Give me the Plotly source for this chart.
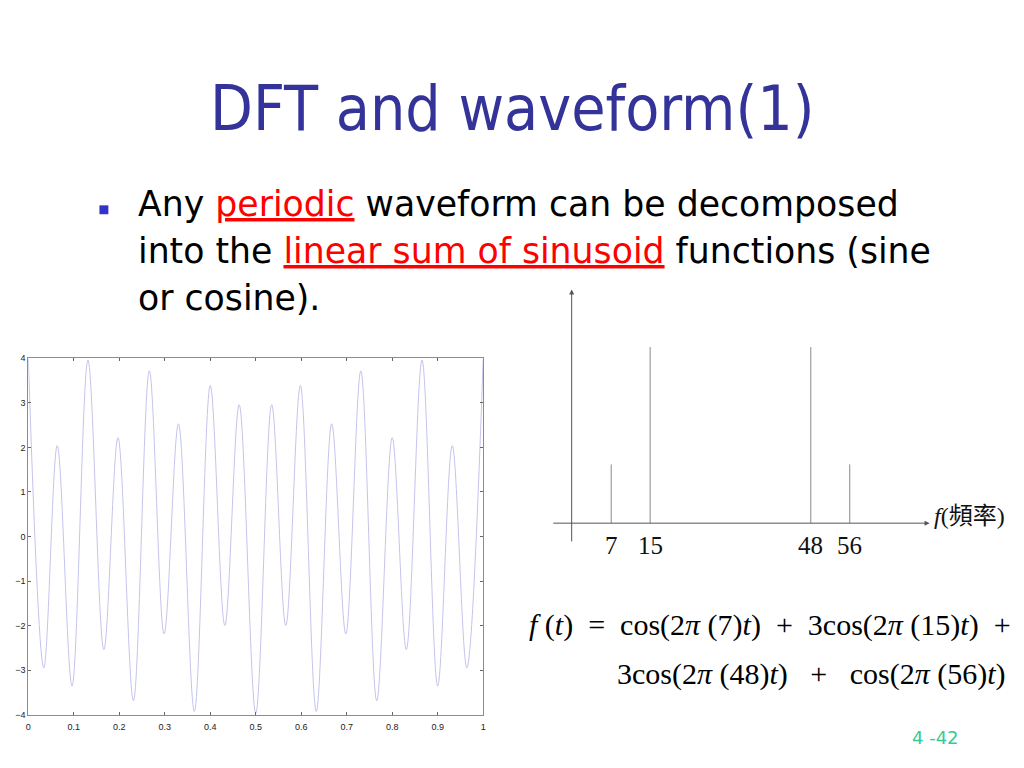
import plotly.graph_objects as go

# ---------------- data ----------------
# waveform extrema (time in s, amplitude)
wave_t = [0.0, 0.034, 0.0635, 0.096, 0.131, 0.166, 0.197, 0.231, 0.266, 0.2985,
          0.33, 0.365, 0.40, 0.432, 0.4635, 0.5, 0.535, 0.566, 0.598, 0.633,
          0.667, 0.698, 0.731, 0.766, 0.80, 0.831, 0.8655, 0.90, 0.932, 0.964, 1.0]
wave_y = [3.98, -2.95, 2.04, -3.36, 3.96, -2.54, 2.22, -3.69, 3.72, -2.19,
          2.53, -3.93, 3.39, -2.0, 2.96, -3.97, 2.96, -2.0, 3.39, -3.93,
          2.53, -2.19, 3.72, -3.69, 2.22, -2.54, 3.96, -3.36, 2.04, -2.95, 3.98]
x_ticks = [0, 0.1, 0.2, 0.3, 0.4, 0.5, 0.6, 0.7, 0.8, 0.9, 1]
x_ticklabels = ["0", "0.1", "0.2", "0.3", "0.4", "0.5", "0.6", "0.7", "0.8", "0.9", "1"]
y_ticks = [-4, -3, -2, -1, 0, 1, 2, 3, 4]

# spectrum
freqs = [7, 15, 48, 56]
amps = [1, 3, 3, 1]

W, H = 1024, 768
def px(x):
    return x / W
def py(y):
    return 1 - y / H

fig = go.Figure()

# waveform
fig.add_trace(go.Scatter(
    x=wave_t, y=wave_y, mode="lines",
    line=dict(color="#c4c4ec", width=1, shape="spline", smoothing=1.0),
    xaxis="x", yaxis="y", showlegend=False, hoverinfo="skip"))

# spectrum stems
sx, sy = [], []
for f, a in zip(freqs, amps):
    sx += [f, f, None]
    sy += [0, a, None]
fig.add_trace(go.Scatter(
    x=sx, y=sy, mode="lines", line=dict(color="#8a8a8a", width=1),
    xaxis="x2", yaxis="y2", showlegend=False, hoverinfo="skip"))

# spectrum axes geometry: pixel = 577.5 + 4.897 f ; baseline y=525, 59.5 px per unit
f_per_px = 1 / 4.897
x2_l, x2_r = 540, 945
y2_t, y2_b = 280, 560
x2_range = [(x2_l - 577.5) * f_per_px, (x2_r - 577.5) * f_per_px]
y2_range = [(525 - y2_b) / 59.5, (525 - y2_t) / 59.5]

axis_font = dict(family="Liberation Sans, Arial", size=9, color="#222222")

fig.update_layout(
    width=W, height=H, margin=dict(l=0, r=0, t=0, b=0),
    paper_bgcolor="white", plot_bgcolor="white",
    xaxis=dict(domain=[px(25.5), px(483)], range=[0, 1], tickvals=x_ticks,
               ticktext=x_ticklabels, ticks="inside", ticklen=3, tickcolor="#666",
               showline=True, linecolor="#8c8c8c", linewidth=1, mirror="allticks",
               showgrid=False, zeroline=False, tickfont=axis_font, anchor="y",
               ticklabelstandoff=4),
    yaxis=dict(domain=[py(719), py(358)], range=[-4, 4], tickvals=y_ticks,
               ticks="inside", ticklen=3, tickcolor="#666",
               showline=True, linecolor="#8c8c8c", linewidth=1, mirror="allticks",
               showgrid=False, zeroline=False, tickfont=axis_font, anchor="x"),
    xaxis2=dict(domain=[px(x2_l), px(x2_r)], range=x2_range, visible=False, anchor="y2"),
    yaxis2=dict(domain=[py(y2_b), py(y2_t)], range=y2_range, visible=False, anchor="x2"),
)

ann = []
cond = "DejaVu Sans Condensed, Tahoma, DejaVu Sans"
sans = "DejaVu Sans, Tahoma, sans-serif"
# title
ann.append(dict(text="DFT and waveform(1)", x=px(512), y=py(105), xref="paper", yref="paper",
                showarrow=False, xanchor="center", yanchor="middle",
                font=dict(family=cond, size=62, color="#333399")))
red = "<span style='color:#ff0000;text-decoration:underline'>%s</span>"
lines = ["Any " + red % "periodic" + " waveform can be decomposed",
         "into the " + red % "linear sum of sinusoid" + " functions (sine",
         "or cosine)."]
for i, ln in enumerate(lines):
    ann.append(dict(text=ln, x=px(134), y=py(202 + 47.5 * i), xref="paper", yref="paper",
                    showarrow=False, xanchor="left", yanchor="middle",
                    font=dict(family=sans, size=34.7, color="#000000")))
# bullet square
fig.add_shape(type="rect", xref="paper", yref="paper",
              x0=px(97), x1=px(106), y0=py(212), y1=py(203),
              fillcolor="#3333cc", line=dict(width=0))

# spectrum axis arrows
ax_col = "#555555"
ann.append(dict(x=72.4, y=0, ax=-5.2, ay=0, xref="x2", yref="y2", axref="x2", ayref="y2",
                text="", showarrow=True, arrowhead=2, arrowsize=1, arrowwidth=1, arrowcolor=ax_col))
ann.append(dict(x=-1.12, y=3.98, ax=-1.12, ay=-0.336, xref="x2", yref="y2", axref="x2", ayref="y2",
                text="", showarrow=True, arrowhead=2, arrowsize=1, arrowwidth=1, arrowcolor=ax_col))
serif = "Liberation Serif, Times New Roman, serif"
for f in freqs:
    ann.append(dict(text=str(f), x=f, y=py(548), xref="x2", yref="paper", showarrow=False,
                    xanchor="center", yanchor="middle",
                    font=dict(family=serif, size=25, color="#111111")))
ann.append(dict(text="<i>f</i>(頻率)", x=px(934), y=py(518), xref="paper", yref="paper",
                showarrow=False, xanchor="left", yanchor="middle",
                font=dict(family="Liberation Serif, Noto Sans CJK TC, serif", size=24, color="#111111")))

# formula
sp = "\u00a0"
ann.append(dict(text="<i>f</i>" + sp + "(<i>t</i>)" + sp * 2 + "=" + sp * 2 +
                "cos(2<i>π</i>" + sp + "(7)<i>t</i>)" + sp * 2 + "+" + sp * 2 +
                "3cos(2<i>π</i>" + sp + "(15)<i>t</i>)" + sp * 2 + "+",
                x=px(1016), y=py(628), xref="paper", yref="paper", showarrow=False,
                xanchor="right", yanchor="middle",
                font=dict(family=serif, size=30, color="#000000")))
ann.append(dict(text="3cos(2<i>π</i>" + sp + "(48)<i>t</i>)" + sp * 3 + "+" + sp * 3 +
                "cos(2<i>π</i>" + sp + "(56)<i>t</i>)",
                x=px(1011), y=py(678), xref="paper", yref="paper", showarrow=False,
                xanchor="right", yanchor="middle",
                font=dict(family=serif, size=30, color="#000000")))
# page number
ann.append(dict(text="4 -42", x=px(938), y=py(742), xref="paper", yref="paper", showarrow=False,
                xanchor="center", yanchor="middle",
                font=dict(family=sans, size=18, color="#33cc99")))

fig.update_layout(annotations=ann)
fig.write_html("out.html", config={"displayModeBar": False},
               post_script="document.body.style.margin='0';")
